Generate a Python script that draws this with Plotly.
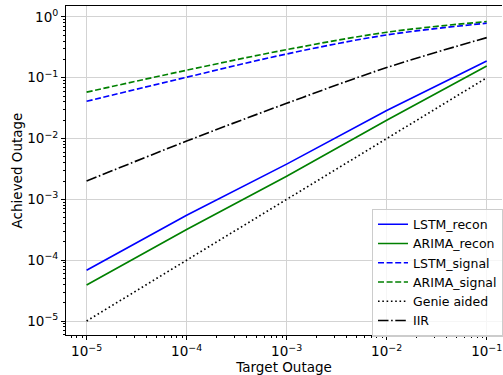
import plotly.graph_objects as go

target = [1e-5, 1e-4, 1e-3, 1e-2, 1e-1]
lstm_recon = [6.85e-5, 5.5e-4, 3.8e-3, 2.9e-2, 0.189]
arima_recon = [3.9e-5, 3.2e-4, 2.4e-3, 2.0e-2, 0.156]
lstm_signal = [0.041, 0.102, 0.246, 0.506, 0.79]
arima_signal = [0.058, 0.133, 0.29, 0.56, 0.84]
genie = [1e-5, 1e-4, 1e-3, 1e-2, 1e-1]
iir = [2.0e-3, 9.1e-3, 0.038, 0.147, 0.457]

tick_vals = [1e-5, 1e-4, 1e-3, 1e-2, 1e-1]
x_tick_text = ["10<sup>\u22125</sup>", "10<sup>\u22124</sup>", "10<sup>\u22123</sup>",
               "10<sup>\u22122</sup>", "10<sup>\u22121</sup>"]
y_tick_vals = [1e-5, 1e-4, 1e-3, 1e-2, 1e-1, 1]
y_tick_text = ["10<sup>\u22125</sup>", "10<sup>\u22124</sup>", "10<sup>\u22123</sup>",
               "10<sup>\u22122</sup>", "10<sup>\u22121</sup>", "10<sup>0</sup>"]

series = [
    ("LSTM_recon", lstm_recon, "#0000ff", "solid", "linear"),
    ("ARIMA_recon", arima_recon, "#008000", "solid", "linear"),
    ("LSTM_signal", lstm_signal, "#0000ff", "6px,2.6px", "spline"),
    ("ARIMA_signal", arima_signal, "#008000", "6px,2.6px", "spline"),
    ("Genie aided", genie, "#000000", "1.6px,2.7px", "linear"),
    ("IIR", iir, "#000000", "10.5px,2.6px,1.6px,2.6px", "spline"),
]

fig = go.Figure()
for name, vals, color, dash, shape in series:
    fig.add_trace(go.Scatter(x=target, y=vals, mode="lines", name=name,
                             line=dict(color=color, width=1.65, dash=dash, shape=shape)))

fs = 13.5
font = dict(family="DejaVu Sans", size=fs, color="black")
fig.update_layout(
    width=503, height=375,
    margin=dict(l=66, r=0, t=6, b=40),
    paper_bgcolor="white", plot_bgcolor="white",
    font=font,
    showlegend=True,
    legend=dict(x=0.7025, y=0.384, xanchor="left", yanchor="top",
                bgcolor="rgba(255,255,255,0.8)", bordercolor="#cccccc", borderwidth=1,
                font=dict(family="DejaVu Sans", size=12.5, color="black"),
                tracegroupgap=0, itemwidth=30),
)
fig.update_xaxes(
    type="log", range=[-5.206, -0.847],
    tickvals=tick_vals, ticktext=x_tick_text,
    showgrid=True, gridcolor="#d3d3d3", gridwidth=1,
    showline=True, linecolor="black", linewidth=1, mirror=True,
    ticks="outside", ticklen=4, tickcolor="black",
    minor=dict(ticks="outside", ticklen=2, tickcolor="black", showgrid=False,
               tickvals=[k * 10 ** e for e in range(-6, 0) for k in range(2, 10)]),
    zeroline=False,
    title=dict(text="Target Outage", font=font, standoff=4),
)
fig.update_yaxes(
    type="log", range=[-5.23, 0.18],
    tickvals=y_tick_vals, ticktext=y_tick_text,
    showgrid=True, gridcolor="#d3d3d3", gridwidth=1,
    showline=True, linecolor="black", linewidth=1, mirror=False,
    ticks="outside", ticklen=4, tickcolor="black",
    minor=dict(ticks="outside", ticklen=2, tickcolor="black", showgrid=False,
               tickvals=[k * 10 ** e for e in range(-6, 1) for k in range(2, 10)]),
    zeroline=False,
    title=dict(text="Achieved Outage", font=font, standoff=1),
)

fig.write_html("out.html")
